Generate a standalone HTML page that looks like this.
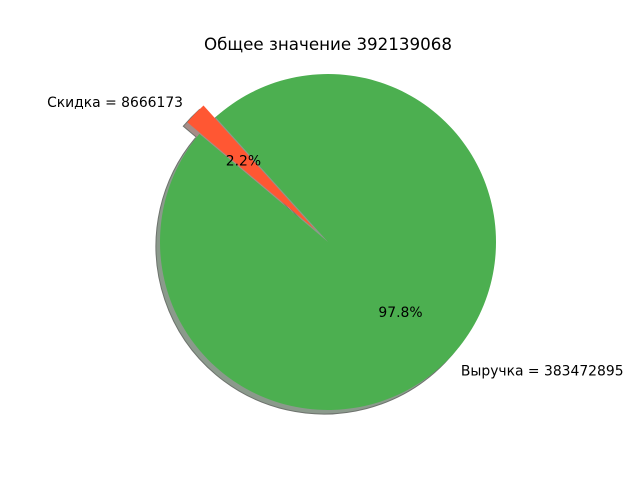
<!DOCTYPE html>
<html><head><meta charset="utf-8"><style>
body{margin:0;background:#fff;}
svg{display:block;font-family:"DejaVu Sans","Liberation Sans",sans-serif;}
</style></head><body>
<svg id="chart" width="640" height="480" viewBox="0 0 640 480">
<rect width="640" height="480" fill="#fff"/>
<text x="328" y="50" text-anchor="middle" font-size="16.7" fill="#000">Общее значение 392139068</text>
<g id="shadows"></g><g id="slices"></g><g id="labels"></g>
</svg>
<script>
const categories = ["Скидка", "Выручка"];
const values = [8666173, 383472895];
const colors = ["#FF5733", "#4CAF50"];
const explode = [0.1, 0];
const startAngle = 132;
const cx = 328, cy = 242, R = 168;
const NS = "http://www.w3.org/2000/svg";
const total = values.reduce((a,b)=>a+b,0);
const pt = (x,y,r,a)=>[x + r*Math.cos(a*Math.PI/180), y - r*Math.sin(a*Math.PI/180)];
function wedgePath(x,y,a0,a1){
  const p0=pt(x,y,R,a0), p1=pt(x,y,R,a1);
  const large=(a1-a0)>180?1:0;
  return `M${x},${y} L${p0[0]},${p0[1]} A${R},${R} 0 ${large} 0 ${p1[0]},${p1[1]} Z`;
}
const shadows=document.getElementById('shadows'), slices=document.getElementById('slices'), labels=document.getElementById('labels');
let a=startAngle;
values.forEach((v,i)=>{
  const span=v/total*360, a0=a, a1=a+span, mid=(a0+a1)/2;
  const off=pt(0,0,explode[i]*R,mid);
  const x=cx+off[0], y=cy+off[1];
  const c=colors[i];
  const rgb=[parseInt(c.substr(1,2),16),parseInt(c.substr(3,2),16),parseInt(c.substr(5,2),16)];
  const sc=rgb.map(k=>Math.round(255*0.5+k*0.3*0.5));
  const sh=document.createElementNS(NS,'path');
  sh.setAttribute('d',wedgePath(x-4,y+4,a0,a1));
  sh.setAttribute('fill',`rgb(${sc.join(',')})`);
  sh.setAttribute('stroke','rgb(110,115,110)');
  sh.setAttribute('stroke-width','1');
  
  
  shadows.appendChild(sh);
  const p=document.createElementNS(NS,'path');
  p.setAttribute('d',wedgePath(x,y,a0,a1));
  p.setAttribute('fill',c);
  
  
  slices.appendChild(p);
  const lp=pt(x,y,1.1*R,mid);
  const t=document.createElementNS(NS,'text');
  t.setAttribute('x',lp[0]); t.setAttribute('y',lp[1]+5);
  t.setAttribute('font-size','13.9');
  t.setAttribute('text-anchor',Math.cos(mid*Math.PI/180)<0?'end':'start');
  t.textContent=categories[i]+' = '+values[i];
  
  
  labels.appendChild(t);
  const pp=pt(x,y,0.6*R,mid);
  const pc=document.createElementNS(NS,'text');
  pc.setAttribute('x',pp[0]); pc.setAttribute('y',pp[1]+5);
  pc.setAttribute('font-size','13.9');
  pc.setAttribute('text-anchor','middle');
  pc.textContent=(v/total*100).toFixed(1)+'%';
  
  
  labels.appendChild(pc);
  a=a1;
});
</script>
</body></html>
